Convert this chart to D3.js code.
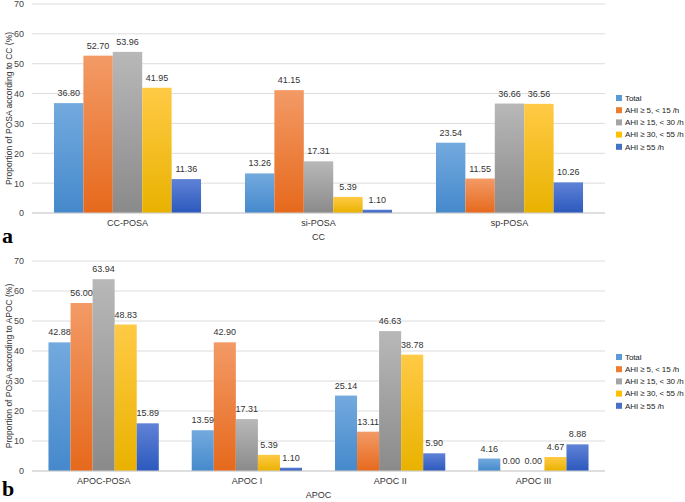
<!DOCTYPE html>
<html>
<head>
<meta charset="utf-8">
<script src="https://cdn.jsdelivr.net/npm/d3@7"></script>
<style>
  body { margin: 0; background: #fff; }
  svg { display: block; font-family: "Liberation Sans", Arial, sans-serif; }
</style>
</head>
<body>
<div id="chart"></div>
<script>
// series names (legend)
var seriesNames = ["Total", "AHI \u2265 5, < 15 /h", "AHI \u2265 15, < 30 /h", "AHI \u2265 30, < 55 /h", "AHI \u2265 55 /h"];
var yTicks = [0, 10, 20, 30, 40, 50, 60, 70];

// panel a : CC
var ccCategories = ["CC-POSA", "si-POSA", "sp-POSA"];
var ccTotal = [36.80, 13.26, 23.54];
var ccAhi5 = [52.70, 41.15, 11.55];
var ccAhi15 = [53.96, 17.31, 36.66];
var ccAhi30 = [41.95, 5.39, 36.56];
var ccAhi55 = [11.36, 1.10, 10.26];

// panel b : APOC
var apocCategories = ["APOC-POSA", "APOC I", "APOC II", "APOC III"];
var apocTotal = [42.88, 13.59, 25.14, 4.16];
var apocAhi5 = [56.00, 42.90, 13.11, 0.00];
var apocAhi15 = [63.94, 17.31, 46.63, 0.00];
var apocAhi30 = [48.83, 5.39, 38.78, 4.67];
var apocAhi55 = [15.89, 1.10, 5.90, 8.88];

// colours: [top, bottom] of gradient, legend colour
var grads = [
    ["#73aade", "#4589cc", "#5b9bd5"],
    ["#f39a66", "#e6691c", "#ed7d31"],
    ["#b8b8b8", "#8a8a8a", "#a5a5a5"],
    ["#ffca45", "#e9b200", "#ffc000"],
    ["#5f82d6", "#2c59bd", "#4472c4"]
];

var width = 685, height = 502;
var svg = d3.select("#chart").append("svg")
    .attr("width", width)
    .attr("height", height);

var defs = svg.append("defs");
grads.forEach(function(g, i) {
    var lg = defs.append("linearGradient")
        .attr("id", "grad" + i)
        .attr("x1", 0).attr("y1", 0).attr("x2", 0).attr("y2", 1);
    lg.append("stop").attr("offset", "0%").attr("stop-color", g[0]);
    lg.append("stop").attr("offset", "100%").attr("stop-color", g[1]);
});

function panel(cfg) {
    var table = cfg.categories.map(function(c, i) {
        return { cat: c, values: cfg.series.map(function(s) { return s[i]; }) };
    });

    var x0 = d3.scaleBand()
        .domain(cfg.categories)
        .range([cfg.left, cfg.right])
        .paddingInner(0.23)
        .paddingOuter(0.115);

    var x1 = d3.scaleBand()
        .domain(d3.range(seriesNames.length))
        .range([0, x0.bandwidth()]);

    var y = d3.scaleLinear()
        .domain([0, 70])
        .range([cfg.bottom, cfg.top]);

    var g = svg.append("g");

    // gridlines
    g.append("g")
        .selectAll("line")
        .data(yTicks)
        .join("line")
        .attr("x1", cfg.left)
        .attr("x2", cfg.right)
        .attr("y1", d => y(d))
        .attr("y2", d => y(d))
        .attr("stroke", "#dcdcdc")
        .attr("stroke-width", 1);

    // y tick labels
    var yAxis = d3.axisLeft(y).tickValues(yTicks).tickSize(0).tickPadding(8);
    var ya = g.append("g")
        .attr("transform", "translate(" + cfg.left + ",0)")
        .call(yAxis);
    ya.select(".domain").remove();
    ya.selectAll("text")
        .style("font-size", "9px")
        .style("font-family", "Liberation Sans, Arial, sans-serif")
        .attr("fill", "#444");

    // bars
    var groups = g.append("g")
        .selectAll("g")
        .data(table)
        .join("g")
        .attr("transform", d => "translate(" + x0(d.cat) + ",0)");

    groups.selectAll("rect")
        .data(d => d.values.map(function(v, i) { return { i: i, v: v }; }))
        .join("rect")
        .attr("x", d => x1(d.i))
        .attr("y", d => y(d.v))
        .attr("width", x1.bandwidth())
        .attr("height", d => y(0) - y(d.v))
        .attr("fill", d => "url(#grad" + d.i + ")");

    groups.selectAll("text")
        .data(d => d.values.map(function(v, i) { return { i: i, v: v }; }))
        .join("text")
        .attr("x", d => x1(d.i) + x1.bandwidth() / 2)
        .attr("y", d => y(d.v) - 7)
        .attr("text-anchor", "middle")
        .style("font-size", "9px")
        .attr("fill", "#333")
        .text(d => d.v.toFixed(2));

    // baseline
    g.append("line")
        .attr("x1", cfg.left).attr("x2", cfg.right)
        .attr("y1", y(0)).attr("y2", y(0))
        .attr("stroke", "#cfcfcf");

    // category labels
    var xAxis = d3.axisBottom(x0).tickSize(0).tickPadding(7);
    var xa = g.append("g")
        .attr("transform", "translate(0," + y(0) + ")")
        .call(xAxis);
    xa.select(".domain").remove();
    xa.selectAll("text")
        .style("font-size", "9px")
        .style("font-family", "Liberation Sans, Arial, sans-serif")
        .attr("fill", "#333");

    // x title
    g.append("text")
        .attr("x", (cfg.left + cfg.right) / 2)
        .attr("y", cfg.bottom + 27)
        .attr("text-anchor", "middle")
        .style("font-size", "9px")
        .attr("fill", "#333")
        .text(cfg.xTitle);

    // y title
    g.append("text")
        .attr("transform", "translate(12," + (cfg.top + cfg.bottom) / 2 + ") rotate(-90)")
        .attr("text-anchor", "middle")
        .style("font-size", "8.5px")
        .attr("fill", "#333")
        .text(cfg.yTitle);

    // legend
    var leg = g.append("g")
        .selectAll("g")
        .data(seriesNames)
        .join("g")
        .attr("transform", (d, i) => "translate(616," + (cfg.legendTop + i * 12.2) + ")");
    leg.append("rect")
        .attr("x", 0).attr("y", -3)
        .attr("width", 6).attr("height", 6)
        .attr("fill", (d, i) => grads[i][2]);
    leg.append("text")
        .attr("x", 9)
        .attr("y", 0)
        .attr("dy", "0.35em")
        .style("font-size", "8px")
        .style("letter-spacing", "-0.1px")
        .attr("fill", "#222")
        .text(d => d);

    // panel letter
    svg.append("text")
        .attr("x", 2)
        .attr("y", cfg.letterY)
        .style("font-family", "Liberation Serif, Times New Roman, serif")
        .style("font-weight", "bold")
        .style("font-size", "22px")
        .attr("fill", "#000")
        .text(cfg.letter);
}

panel({
    categories: ccCategories,
    series: [ccTotal, ccAhi5, ccAhi15, ccAhi30, ccAhi55],
    left: 32, right: 605, top: 4, bottom: 213,
    xTitle: "CC",
    yTitle: "Proportion of POSA according to CC (%)",
    legendTop: 98,
    letter: "a",
    letterY: 243
});

panel({
    categories: apocCategories,
    series: [apocTotal, apocAhi5, apocAhi15, apocAhi30, apocAhi55],
    left: 32, right: 605, top: 261, bottom: 471,
    xTitle: "APOC",
    yTitle: "Proportion of POSA according to APOC (%)",
    legendTop: 357,
    letter: "b",
    letterY: 496
});
</script>
</body>
</html>
